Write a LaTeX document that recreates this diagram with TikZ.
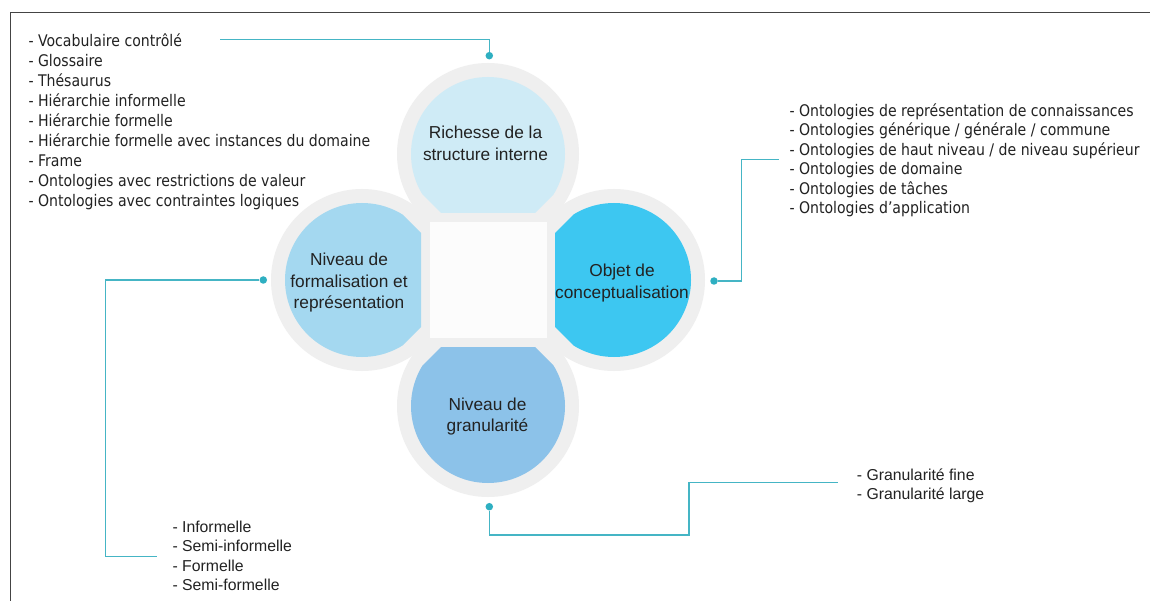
\documentclass[tikz,border=0pt]{standalone}
\usepackage{fontspec}
\setmainfont{Liberation Sans}
\newfontfamily\tahfont[FakeStretch=0.88]{DejaVu Sans}
\definecolor{ringgrey}{HTML}{EFEFEF}
\definecolor{ctop}{HTML}{CFEBF6}
\definecolor{cleft}{HTML}{A4D8F0}
\definecolor{cright}{HTML}{3DC7F1}
\definecolor{cbot}{HTML}{8CC2E9}
\definecolor{linkteal}{HTML}{45B5C5}
\definecolor{dotteal}{HTML}{2EAFC1}
\definecolor{sqwhite}{HTML}{FCFCFC}
\definecolor{txtdark}{HTML}{222222}
\definecolor{framegrey}{HTML}{444444}
\begin{document}
\begin{tikzpicture}[x=1pt,y=-1pt,
  ringfill/.style={fill=ringgrey, draw=none},
  dotnode/.style={circle, fill=dotteal, draw=none, inner sep=0pt, minimum size=7.5pt},
  link/.style={draw=linkteal, line width=1.2pt},
  petallabel/.style={font=\fontsize{17.3}{21.7}\selectfont, text=txtdark, align=center, inner sep=0pt},
  tahitem/.style={font=\tahfont\fontsize{16}{20}\selectfont, text=txtdark, anchor=base west, inner sep=0pt},
  arialitem/.style={font=\fontsize{15.8}{19.4}\selectfont, text=txtdark, anchor=base west, inner sep=0pt},
  frameline/.style={draw=framegrey, line width=1.4pt}]
\useasboundingbox (0,0) rectangle (1150,601);
\fill[white] (0,0) rectangle (1150,601);

% frame
\coordinate (fbl) at (10.7,601);
\coordinate (ftl) at (10.7,12.5);
\coordinate (ftr) at (1150,12.5);
\draw[frameline] (fbl) -- (ftl) -- (ftr);

% grey base shape
\fill[ringfill] (488,154) circle (91);
\fill[ringfill] (362,280) circle (91);
\fill[ringfill] (614,280) circle (91);
\fill[ringfill] (488,406) circle (91);
\fill[ringfill] (421,213) rectangle (555,347);

% coloured petals
\begin{scope}
  \clip (441,213) -- (535,213) -- (688,60) -- (688,0) -- (288,0) -- (288,60) -- cycle;
  \fill[ctop] (488,154) circle (77);
\end{scope}
\begin{scope}
  \clip (441,347) -- (535,347) -- (688,500) -- (688,601) -- (288,601) -- (288,500) -- cycle;
  \fill[cbot] (488,406) circle (77);
\end{scope}
\begin{scope}
  \clip (421,233) -- (421,327) -- (268,480) -- (150,480) -- (150,80) -- (268,80) -- cycle;
  \fill[cleft] (362,280) circle (77);
\end{scope}
\begin{scope}
  \clip (555,233) -- (555,327) -- (708,480) -- (826,480) -- (826,80) -- (708,80) -- cycle;
  \fill[cright] (614,280) circle (77);
\end{scope}

% centre square
\node[draw=none, fill=sqwhite, minimum width=117pt, minimum height=116.5pt, inner sep=0pt] (centre) at (488,280.2) {};

% petal labels
\node[petallabel] (richesse) at (485.5,143.5) {Richesse de la\\structure interne};
\node[petallabel] (formal) at (349,282.7) {Niveau de\\formalisation et\\représentation};
\node[petallabel] (objet) at (622,283.2) {Objet de\\conceptualisation};
\node[petallabel] (granu) at (487.5,416.5) {Niveau de\\granularité};

% dots
\node[dotnode] (dtop) at (489.3,55.7) {};
\node[dotnode] (dleft) at (263.3,280) {};
\node[dotnode] (dright) at (714,281) {};
\node[dotnode] (dbot) at (489.3,506.7) {};

% lists
\foreach \t [count=\i] in {- Vocabulaire contrôlé, - Glossaire, - Thésaurus, - Hiérarchie informelle, - Hiérarchie formelle, - Hiérarchie formelle avec instances du domaine, - Frame, - Ontologies avec restrictions de valeur, - Ontologies avec contraintes logiques}
  \node[tahitem] (tl\i) at (28.3,{46.7+19.95*(\i-1)}) {\t};

\foreach \t [count=\i] in {- Ontologies de représentation de connaissances, - Ontologies générique / générale / commune, - Ontologies de haut niveau / de niveau supérieur, - Ontologies de domaine, - Ontologies de tâches, - Ontologies d’application}
  \node[tahitem] (tr\i) at (789.3,{116.2+19.5*(\i-1)}) {\t};

\foreach \t [count=\i] in {- Informelle, - Semi-informelle, - Formelle, - Semi-formelle}
  \node[arialitem] (bl\i) at (172.3,{532.3+19.4*(\i-1)}) {\t};

\foreach \t [count=\i] in {- Granularité fine, - Granularité large}
  \node[arialitem] (br\i) at (856.7,{480.6+19.2*(\i-1)}) {\t};

% connectors
\coordinate (tlend) at (220,39.3);
\draw[link] (tlend) -| (dtop);

\coordinate (rk) at (741.7,159.3);
\coordinate (rend) at (779,159.3);
\draw[link] (dright) -| (rk) -- (rend);

\coordinate (lk) at (105.3,556.7);
\coordinate (lend) at (157.3,556.7);
\draw[link] (dleft) -| (lk) -- (lend);

\coordinate (bk) at (689,535);
\coordinate (bend) at (838.3,482.3);
\draw[link] (dbot) |- (bk) |- (bend);
\end{tikzpicture}
\end{document}
